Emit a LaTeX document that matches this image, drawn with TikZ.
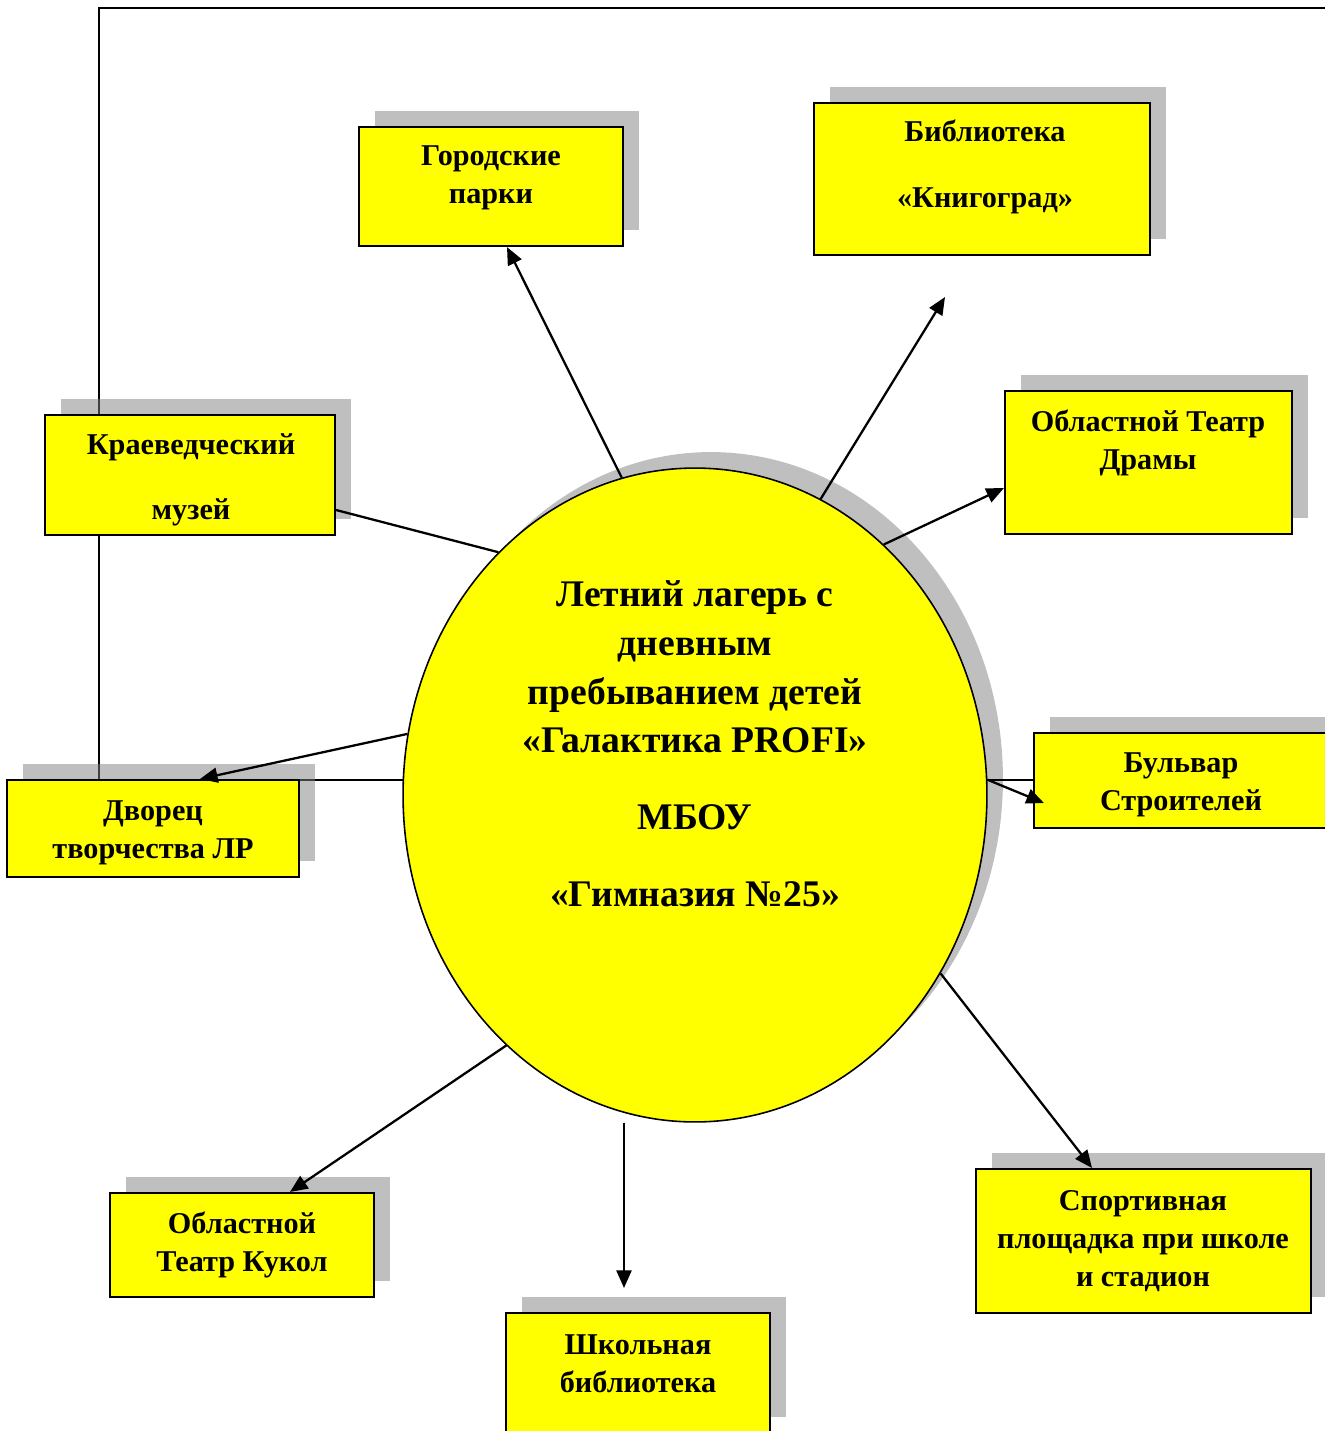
\documentclass[tikz,border=0pt]{standalone}
\usepackage{fontspec}
\setmainfont{Liberation Serif}
\usetikzlibrary{shapes.geometric}
\usetikzlibrary{shadows}
\usetikzlibrary{arrows.meta}

\definecolor{boxyellow}{RGB}{255,255,0}
\definecolor{shadowgray}{RGB}{128,128,128}

\pgfdeclarelayer{background}
\pgfsetlayers{background,main}

\begin{document}
\begin{tikzpicture}[
        x = 0.02cm, y = -0.02cm,
        place/.style = {
            draw,
            fill = boxyellow,
            line width = 1.2pt,
            inner sep = 0pt,
            drop shadow = {shadow xshift = 0.32cm, shadow yshift = 0.32cm,
                           fill = shadowgray, opacity = 0.5}
        },
        camp/.style = {
            place,
            ellipse,
            line width = 0.9pt,
            minimum width = 11.68cm,
            minimum height = 13.08cm
        },
        tag/.style = {
            font = \bfseries\fontsize{17.2}{21.5}\selectfont,
            align = center,
            anchor = base,
            inner sep = 0pt
        },
        link/.style = {line width = 1.3pt},
        arrow/.style = {link, -{Triangle[length = 10pt, width = 8.5pt]}}
        ]
        \useasboundingbox (0,0) rectangle (1325,1431);
%
        \node[camp] (camp) at (695,795) {};
        \node[tag, font = \bfseries\fontsize{21.4}{27.8}\selectfont] (camp-t) at (695,906)
            {Летний лагерь с\\дневным\\пребыванием детей\\«Галактика PROFI»\\[16pt]МБОУ\\[15.5pt]«Гимназия №25»};
%
        \node[place, minimum width = 5.28cm, minimum height = 2.38cm] (parks) at (491,186.5) {};
        \node[tag] (parks-t) at (491,203) {Городские\\парки};
%
        \node[place, minimum width = 6.72cm, minimum height = 3.04cm] (library) at (982,179) {};
        \node[tag] (library-t) at (985,207) {Библиотека\\[16pt]«Книгоград»};
%
        \node[place, minimum width = 5.74cm, minimum height = 2.86cm] (drama) at (1148.5,462.5) {};
        \node[tag] (drama-t) at (1148,469) {Областной Театр\\Драмы};
%
        \node[place, minimum width = 5.8cm, minimum height = 2.4cm] (museum) at (190,475) {};
        \node[tag] (museum-t) at (191,519) {Краеведческий\\[15pt]музей};
%
        \node[place, minimum width = 5.84cm, minimum height = 1.94cm] (palace) at (153,828.5) {};
        \node[tag] (palace-t) at (153,858) {Дворец\\творчества ЛР};
%
        \node[place, minimum width = 5.92cm, minimum height = 1.9cm] (boulevard) at (1182,780.5) {};
        \node[tag] (boulevard-t) at (1181,810) {Бульвар\\Строителей};
%
        \node[place, minimum width = 5.28cm, minimum height = 2.08cm] (puppets) at (242,1245) {};
        \node[tag] (puppets-t) at (242,1271) {Областной\\Театр Кукол};
%
        \node[place, minimum width = 5.28cm, minimum height = 2.4cm] (school) at (638,1373) {};
        \node[tag] (school-t) at (638,1392) {Школьная\\библиотека};
%
        \node[place, minimum width = 6.7cm, minimum height = 2.88cm] (sport) at (1143.5,1241) {};
        \node[tag] (sport-t) at (1143,1286) {Спортивная\\площадка при школе\\и стадион};
%
        \coordinate (corner-l) at (99,8);
        \coordinate (corner-r) at (1330,8);
        \coordinate (library-tip) at (945,297);
        \coordinate (school-tip) at (624,1288);
%
        \begin{pgfonlayer}{background}
        \draw[link] (camp.177) -| (corner-l) -- (corner-r);
        \end{pgfonlayer}
        \draw[link] (camp.3) -- (camp.3 -| boulevard.west);
%
        \draw[arrow] (camp.103) -- ([xshift = 0.32cm]parks.south);
        \draw[arrow] (camp.67) -- (library-tip);
        \draw[arrow] (camp.53) -- ([yshift = -0.51cm]drama.west);
        \draw[link] ([yshift = -0.7cm]museum.east) -- (camp.129);
        \draw[arrow] (camp.168) -- ([xshift = 0.94cm]palace.north);
        \draw[arrow] (camp.3) -- ([xshift = 0.22cm, yshift = -0.45cm]boulevard.west);
        \draw[arrow] (camp.233) -- ([xshift = 0.96cm]puppets.north);
        \draw[arrow] (camp.south -| school-tip) -- (school-tip);
        \draw[arrow] (camp.-36) -- ([xshift = -1.03cm]sport.north);
    \end{tikzpicture}
\end{document}
